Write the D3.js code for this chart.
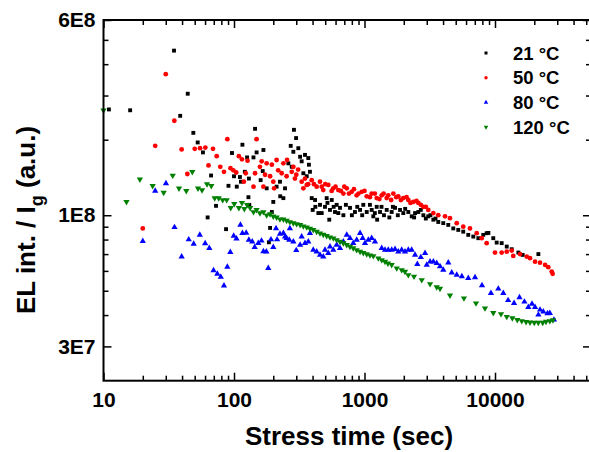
<!DOCTYPE html>
<html>
<head>
<meta charset="utf-8">
<script src="https://cdn.jsdelivr.net/npm/d3@7"></script>
<style>
body { margin: 0; background: #fff; overflow: hidden; }
text { font-family: Arial, "Liberation Sans", sans-serif; font-weight: bold; fill: #000; }
</style>
</head>
<body>
<svg id="chart" width="589" height="452"></svg>
<script>
// stress time (sec) and EL int. / Ig (a.u.)
const t21 = [11,16,34.7,38.7,44.2,48.8,52.7,57.8,62.8,66.7,72.8,86.9,90.7,96.5,100,105,111,113,116,121,126,129,130,131,141,145,149,160,166,168,178,185,189,195,200,212,225,226,239,246,261,272,277,285,288,299,311,321,330,340,350,361,371,375,382,394,401,418,420,443,456,470,498,513,520,537,544,561,580,594,612,630,649,689,720,774,800,845,880,925,960,979,1040,1100,1135,1168,1200,1240,1250,1315,1350,1410,1479,1550,1615,1650,1714,1800,1871,1983,2050,2167,2300,2400,2440,2585,2700,2825,2950,3080,3200,3370,3500,3675,4015,4385,4790,5230,5710,6240,6820,7450,8130,8630,8900,9700,10300,11250,12300,13430,15100,16300,21500];
const v21 = [2.64e8,2.62e8,4.53e8,2.49e8,3.05e8,2.13e8,1.95e8,1.78e8,0.98e8,1.44e8,1.09e8,0.88e8,1.31e8,1.77e8,1.43e8,1.30e8,1.42e8,1.36e8,1.91e8,1.49e8,1.70e8,1.18e8,1.40e8,1.10e8,1.70e8,2.21e8,1.78e8,1.38e8,1.50e8,1.82e8,1.28e8,0.78e8,0.89e8,1.03e8,1.13e8,1.30e8,1.36e8,1.19e8,1.17e8,1.28e8,1.61e8,1.89e8,1.56e8,1.79e8,2.19e8,2.03e8,1.85e8,1.71e8,1.64e8,1.47e8,1.74e8,1.43e8,1.69e8,1.59e8,1.49e8,1.17e8,1.05e8,1.15e8,1.08e8,1.02e8,1.10e8,1.02e8,1.08e8,1.17e8,1.12e8,0.96e8,1.05e8,1.15e8,1.08e8,1.03e8,1.10e8,1.02e8,1.07e8,1.00e8,1.10e8,1.07e8,1.00e8,1.03e8,1.08e8,1.05e8,1.00e8,1.10e8,1.03e8,1.10e8,1.05e8,0.99e8,1.02e8,1.08e8,0.96e8,1.03e8,1.08e8,1.00e8,1.05e8,0.98e8,1.03e8,1.08e8,1.07e8,1.00e8,1.05e8,1.02e8,1.06e8,1.03e8,0.99e8,0.98e8,1.02e8,1.03e8,1.05e8,1.00e8,0.97e8,0.99e8,1.00e8,0.96e8,0.97e8,0.94e8,0.93e8,0.915e8,0.886e8,0.874e8,0.86e8,0.835e8,0.822e8,0.81e8,0.835e8,0.848e8,0.85e8,0.81e8,0.778e8,0.774e8,0.75e8,0.732e8,0.71e8,0.695e8,0.70e8];

const t50 = [20,24.9,30,34.9,39.7,43.9,50,54.9,60.3,63.8,69,73.7,78.5,83.8,88.9,94,98.8,104,109,115,119,123,127,141,145,149,158,163,168,173,178,189,195,200,203,212,218,232,239,253,255,277,285,293,300,310,330,340,350,361,370,394,410,430,456,470,483,500,528,560,577,600,630,660,689,700,731,760,798,830,871,900,953,1000,1040,1100,1135,1200,1240,1300,1355,1400,1479,1520,1600,1663,1750,1815,1900,1983,2100,2167,2250,2366,2500,2585,2700,2825,2950,3080,3370,3675,4140,4520,5090,5710,6430,7240,7910,8630,10000,11250,12300,13430,13800,15550,17500,18550,20270,22130,24200,25600,27200,27650];
const v50 = [0.886e8,1.89e8,3.65e8,2.38e8,1.83e8,1.46e8,1.84e8,1.85e8,1.86e8,1.58e8,1.84e8,1.72e8,1.56e8,1.49e8,2.01e8,1.54e8,1.51e8,1.48e8,1.72e8,1.67e8,1.36e8,1.47e8,1.65e8,1.30e8,1.47e8,2.01e8,1.56e8,1.64e8,1.30e8,1.45e8,1.61e8,1.43e8,1.59e8,1.36e8,1.28e8,1.66e8,1.51e8,1.47e8,1.61e8,1.43e8,1.66e8,1.49e8,1.56e8,1.40e8,1.45e8,1.52e8,1.36e8,1.28e8,1.40e8,1.32e8,1.33e8,1.38e8,1.33e8,1.30e8,1.36e8,1.30e8,1.26e8,1.33e8,1.32e8,1.25e8,1.28e8,1.30e8,1.26e8,1.25e8,1.22e8,1.30e8,1.28e8,1.22e8,1.24e8,1.27e8,1.20e8,1.22e8,1.24e8,1.25e8,1.19e8,1.18e8,1.22e8,1.22e8,1.17e8,1.16e8,1.20e8,1.22e8,1.17e8,1.20e8,1.15e8,1.22e8,1.18e8,1.19e8,1.15e8,1.17e8,1.18e8,1.15e8,1.12e8,1.13e8,1.14e8,1.12e8,1.10e8,1.08e8,1.08e8,1.05e8,1.02e8,1.00e8,0.99e8,0.973e8,0.93e8,0.90e8,0.886e8,0.848e8,0.81e8,0.774e8,0.71e8,0.71e8,0.716e8,0.723e8,0.688e8,0.70e8,0.684e8,0.674e8,0.653e8,0.647e8,0.634e8,0.621e8,0.596e8,0.584e8];

const t80 = [20,24.9,30.1,35,39.7,45,49.1,54.7,60.1,64.7,69.7,74.5,79.2,83.8,88.9,93.7,99.5,104.5,112,116,124,130,138,144,153.5,162.5,168,177,183,192,200,210,214,225,239,246,253,265,268,285,300,321,330,350,371,382,405,430,456,483,498,528,544,577,612,649,689,731,774,820,871,925,968,1009,1070,1135,1203,1355,1436,1520,1615,1714,1815,1928,2043,2167,2300,2440,2540,2700,2910,3000,3180,3370,3575,3790,4015,4385,4660,5090,5570,6240,7030,7950,9310,10600,11580,12600,14000,15400,16800,18000,19200,20270,21500,22130,23460,25250,26300,28300];
const v80 = [0.788e8,1.25e8,1.34e8,0.895e8,0.684e8,0.80e8,0.769e8,0.835e8,0.772e8,0.739e8,0.603e8,0.584e8,0.568e8,0.524e8,0.622e8,0.712e8,0.827e8,0.806e8,0.915e8,0.848e8,0.85e8,0.797e8,0.785e8,0.746e8,0.774e8,0.791e8,0.717e8,0.716e8,0.615e8,0.80e8,0.746e8,0.886e8,0.80e8,0.842e8,0.848e8,0.822e8,0.81e8,0.797e8,0.886e8,0.785e8,0.725e8,0.762e8,0.822e8,0.774e8,0.785e8,0.848e8,0.727e8,0.716e8,0.695e8,0.684e8,0.727e8,0.706e8,0.75e8,0.727e8,0.762e8,0.739e8,0.785e8,0.835e8,0.81e8,0.774e8,0.797e8,0.848e8,0.81e8,0.774e8,0.797e8,0.81e8,0.785e8,0.739e8,0.727e8,0.727e8,0.727e8,0.732e8,0.716e8,0.727e8,0.716e8,0.727e8,0.727e8,0.695e8,0.638e8,0.68e8,0.706e8,0.634e8,0.653e8,0.653e8,0.644e8,0.625e8,0.605e8,0.647e8,0.59e8,0.578e8,0.57e8,0.561e8,0.565e8,0.525e8,0.489e8,0.509e8,0.489e8,0.458e8,0.446e8,0.47e8,0.452e8,0.43e8,0.443e8,0.43e8,0.401e8,0.42e8,0.413e8,0.406e8,0.407e8,0.383e8];

const t120 = [10,15,19,23.8,28.9,33.9,37.9,43.1,47.9,53,56.9,62.1,67,71.1,76.3,81.9,87.9,94.4,100.5,109,115,120,126,133,141,149,158,168,178,189,200,212,225,239,253,268,285,302,321,340,361,382,405,430,456,483,513,544,577,612,649,689,731,774,820,871,925,979,1040,1102,1168,1276,1355,1436,1513,1615,1766,1928,2043,2167,2395,2745,3180,3575,3790,4520,5780,7150,8380,9700,11120,12300,13580,14820,16030,17300,18550,20000,21470,23210,24600,26300,27800];
const v120 = [2.62e8,1.13e8,1.39e8,1.31e8,1.23e8,1.44e8,1.28e8,1.25e8,1.49e8,1.28e8,1.26e8,1.33e8,1.31e8,1.17e8,1.17e8,1.15e8,1.15e8,1.07e8,1.11e8,1.07e8,1.12e8,1.06e8,1.10e8,1.07e8,1.03e8,1.05e8,1.02e8,1.03e8,1.00e8,1.01e8,0.99e8,0.98e8,0.964e8,0.963e8,0.952e8,0.94e8,0.93e8,0.923e8,0.915e8,0.904e8,0.896e8,0.884e8,0.874e8,0.86e8,0.848e8,0.837e8,0.827e8,0.817e8,0.81e8,0.797e8,0.785e8,0.774e8,0.762e8,0.75e8,0.739e8,0.727e8,0.716e8,0.708e8,0.70e8,0.693e8,0.688e8,0.674e8,0.663e8,0.653e8,0.643e8,0.634e8,0.615e8,0.605e8,0.596e8,0.578e8,0.57e8,0.552e8,0.532e8,0.517e8,0.51e8,0.479e8,0.467e8,0.446e8,0.426e8,0.408e8,0.404e8,0.394e8,0.389e8,0.383e8,0.379e8,0.376e8,0.374e8,0.373e8,0.373e8,0.373e8,0.377e8,0.379e8,0.382e8];

const seriesNames = ["21 \u00B0C", "50 \u00B0C", "80 \u00B0C", "120 \u00B0C"];
const seriesColors = ["#000000", "#ff0000", "#0000ff", "#008000"];
const xMajor = [10, 100, 1000, 10000];
const yMajor = [6e8, 1e8, 3e7];
const yLabels = ["6E8", "1E8", "3E7"];

const svg = d3.select("#chart");
// the right frame edge sits just past the picture, as in the original
const plotLeft = 103.5, plotRight = 591, plotTop = 20, plotBottom = 380.7;

const x = d3.scaleLog().domain([10, 54400]).range([plotLeft, plotRight]);
const y = d3.scaleLog().domain([2.19e7, 6e8]).range([plotBottom, plotTop]);

// minor ticks 2..9 of every decade inside the domain
function minors(scale) {
	const d = scale.domain(), out = [];
	for (let p = Math.floor(Math.log10(d[0])); p <= Math.ceil(Math.log10(d[1])); p++) {
		for (let k = 2; k <= 9; k++) {
			const v = k * Math.pow(10, p);
			if (v >= d[0] && v <= d[1]) out.push(v);
		}
	}
	return out;
}
const xMinor = minors(x);
const yMinor = minors(y).filter(function (v) { return yMajor.indexOf(v) < 0; });

// points
const series = [
	{ t: t21, v: v21, sym: d3.symbolSquare, size: 15, rot: 0 },
	{ t: t50, v: v50, sym: d3.symbolCircle, size: 18, rot: 0 },
	{ t: t80, v: v80, sym: d3.symbolTriangle, size: 17, rot: 0 },
	{ t: t120, v: v120, sym: d3.symbolTriangle, size: 17, rot: 180 }
];
series.forEach(function (s, i) {
	const g = svg.append("g").attr("fill", seriesColors[i]);
	const shape = d3.symbol().type(s.sym).size(s.size);
	g.selectAll("path")
		.data(s.t.map(function (t, j) { return [t, s.v[j]]; }))
		.enter().append("path")
			.attr("d", shape)
			.attr("transform", function (d) {
				return "translate(" + x(d[0]) + "," + y(d[1]) + ") rotate(" + s.rot + ")";
			});
});

// axes: major and minor ticks pointing inward, on all four sides
function ticks(axis, pos, vals, len, fmt) {
	const a = axis.tickValues(vals).tickSize(-len).tickSizeOuter(0);
	if (fmt) a.tickFormat(fmt); else a.tickFormat("");
	const g = svg.append("g").attr("transform", pos).call(a);
	g.select(".domain").remove();
	g.selectAll("line").attr("stroke", "#000").attr("stroke-width", 1.5);
	return g;
}
const bx = ticks(d3.axisBottom(x).tickPadding(11), "translate(0," + plotBottom + ")", xMajor, 8, d3.format("d"));
ticks(d3.axisBottom(x), "translate(0," + plotBottom + ")", xMinor, 5);
ticks(d3.axisTop(x), "translate(0," + plotTop + ")", xMajor, 8);
ticks(d3.axisTop(x), "translate(0," + plotTop + ")", xMinor, 5);
const ly = ticks(d3.axisLeft(y).tickPadding(8), "translate(" + plotLeft + ",0)", yMajor, 8, function (d, i) { return yLabels[i]; });
ticks(d3.axisLeft(y), "translate(" + plotLeft + ",0)", yMinor, 5);
ticks(d3.axisRight(y), "translate(" + plotRight + ",0)", yMajor, 8);
ticks(d3.axisRight(y), "translate(" + plotRight + ",0)", yMinor, 5);
bx.selectAll("text").style("font-size", "21px").style("font-family", "Arial, 'Liberation Sans', sans-serif").style("font-weight", "bold").attr("fill", "#000");
ly.selectAll("text").style("font-size", "21px").style("font-family", "Arial, 'Liberation Sans', sans-serif").style("font-weight", "bold").attr("fill", "#000");

svg.append("rect")
	.attr("x", plotLeft).attr("y", plotTop)
	.attr("width", plotRight - plotLeft).attr("height", plotBottom - plotTop)
	.attr("fill", "none").attr("stroke", "#000").attr("stroke-width", 2);

// axis titles
svg.append("text")
	.attr("x", 349).attr("y", 445)
	.attr("text-anchor", "middle")
	.style("font-size", "26px")
	.text("Stress time (sec)");

const yt = svg.append("text")
	.attr("transform", "translate(35,220) rotate(-90)")
	.attr("text-anchor", "middle")
	.style("font-size", "26px");
yt.append("tspan").text("EL int. / I");
yt.append("tspan").attr("dy", 8).style("font-size", "18px").text("g");
yt.append("tspan").attr("dy", -8).text(" (a.u.)");

// legend
const lg = svg.append("g");
seriesNames.forEach(function (name, i) {
	const yy = 53 + i * 24.7;
	lg.append("path")
		.attr("d", d3.symbol().type(series[i].sym).size(9)())
		.attr("transform", "translate(486," + yy + ") rotate(" + series[i].rot + ")")
		.attr("fill", seriesColors[i]);
	lg.append("text")
		.attr("x", 513).attr("y", yy)
		.attr("dy", "0.36em")
		.style("font-size", "18.5px")
		.text(name);
});
</script>
</body>
</html>
